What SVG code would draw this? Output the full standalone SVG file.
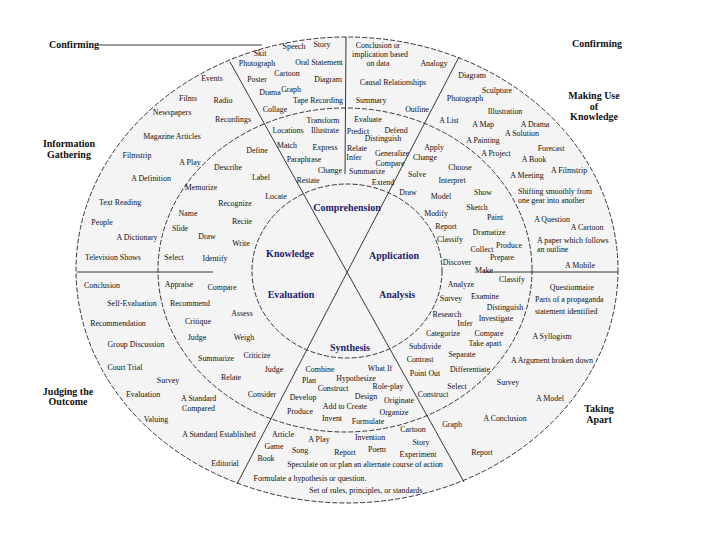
<svg xmlns="http://www.w3.org/2000/svg" width="720" height="540" viewBox="0 0 720 540">
<style>
.t{font-family:"Liberation Serif","Times New Roman",serif;font-size:7.9px;fill:#111;text-anchor:middle;dominant-baseline:central}
.s{text-anchor:start}
.lab{font-size:10px;font-weight:bold;fill:#111}
.core{font-size:10px;font-weight:bold;fill:#1c1c6c}
.el{fill:none;stroke:#222;stroke-width:0.9;stroke-dasharray:5 2}
.ln{stroke:#222;stroke-width:0.9;fill:none}
</style>
<rect width="720" height="540" fill="#fff"/>
<ellipse cx="347" cy="270" rx="271" ry="233" fill="#f4f4f4"/>
<g id="connectors">
<ellipse class="el" cx="347" cy="270" rx="271" ry="233"/>
<ellipse class="el" cx="345" cy="270" rx="187" ry="162"/>
<ellipse class="el" cx="347" cy="271" rx="95" ry="87"/>
<line class="ln" x1="230" y1="62" x2="464" y2="482"/>
<line class="ln" x1="459" y1="57" x2="237" y2="484"/>
<line class="ln" x1="346" y1="37" x2="345" y2="174"/>
<line class="ln" x1="77" y1="272" x2="213" y2="272"/>
<line class="ln" x1="483" y1="272" x2="618" y2="272"/>
<line class="ln" x1="97" y1="45" x2="262" y2="45"/>
</g>
<g id="labels" class="t">
<text class="t lab s" x="49" y="44">Confirming</text>
<text class="t lab" x="597" y="43">Confirming</text>
<text class="t lab" x="594" y="95">Making Use</text>
<text class="t lab" x="594" y="106">of</text>
<text class="t lab" x="594" y="116">Knowledge</text>
<text class="t lab" x="69" y="143">Information</text>
<text class="t lab" x="69" y="154">Gathering</text>
<text class="t lab" x="68" y="391">Judging the</text>
<text class="t lab" x="68" y="401">Outcome</text>
<text class="t lab" x="599" y="408">Taking</text>
<text class="t lab" x="599" y="419">Apart</text>
</g>
<g id="knowledge"><text class="t core" x="290" y="253">Knowledge</text></g>
<g id="comprehension"><text class="t core" x="347" y="207">Comprehension</text></g>
<g id="application"><text class="t core" x="394" y="255">Application</text></g>
<g id="analysis"><text class="t core" x="397" y="294">Analysis</text></g>
<g id="synthesis"><text class="t core" x="350" y="347">Synthesis</text></g>
<g id="evaluation"><text class="t core" x="291" y="294">Evaluation</text></g>
<g id="knowledge-outer">
<text class="t" x="172" y="112">Newspapers</text>
<text class="t" x="188" y="98">Films</text>
<text class="t" x="212" y="78">Events</text>
<text class="t" x="223" y="100">Radio</text>
<text class="t" x="172" y="136">Magazine Articles</text>
<text class="t" x="137" y="155">Filmstrip</text>
<text class="t" x="190" y="162">A Play</text>
<text class="t" x="151" y="178">A Definition</text>
<text class="t" x="120" y="202">Text Reading</text>
<text class="t" x="102" y="222">People</text>
<text class="t" x="137" y="237">A Dictionary</text>
<text class="t" x="113" y="257">Television Shows</text>
<text class="t" x="233" y="119">Recordings</text>
</g>
<g id="knowledge-middle">
<text class="t" x="257" y="150">Define</text>
<text class="t" x="228" y="167">Describe</text>
<text class="t" x="261" y="177">Label</text>
<text class="t" x="201" y="187">Memorize</text>
<text class="t" x="276" y="196">Locate</text>
<text class="t" x="235" y="203">Recognize</text>
<text class="t" x="188" y="213">Name</text>
<text class="t" x="242" y="221">Recite</text>
<text class="t" x="180" y="228">Slide</text>
<text class="t" x="207" y="236">Draw</text>
<text class="t" x="241" y="243">Write</text>
<text class="t" x="174" y="257">Select</text>
<text class="t" x="215" y="258">Identify</text>
</g>
<g id="comprehension-outer">
<text class="t" x="294" y="46">Speech</text>
<text class="t" x="322" y="44">Story</text>
<text class="t" x="260" y="53">Skit</text>
<text class="t" x="257" y="63">Photograph</text>
<text class="t" x="319" y="62">Oral Statement</text>
<text class="t" x="287" y="73">Cartoon</text>
<text class="t" x="257" y="79">Poster</text>
<text class="t" x="328" y="79">Diagram</text>
<text class="t" x="270" y="92">Drama</text>
<text class="t" x="291" y="89">Graph</text>
<text class="t" x="318" y="100">Tape Recording</text>
<text class="t" x="275" y="109">Collage</text>
<text class="t" x="378" y="45">Conclusion or</text>
<text class="t" x="380" y="54">implication based</text>
<text class="t" x="378" y="63">on data</text>
<text class="t" x="434" y="63">Analogy</text>
<text class="t" x="393" y="82">Causal Relationships</text>
<text class="t" x="371" y="100">Summary</text>
<text class="t" x="417" y="109">Outline</text>
</g>
<g id="comprehension-middle">
<text class="t" x="323" y="120">Transform</text>
<text class="t" x="288" y="130">Locations</text>
<text class="t" x="325" y="130">Illustrate</text>
<text class="t" x="287" y="145">Match</text>
<text class="t" x="325" y="147">Express</text>
<text class="t" x="304" y="159">Paraphrase</text>
<text class="t" x="330" y="170">Change</text>
<text class="t" x="308" y="180">Restate</text>
<text class="t" x="368" y="119">Evaluate</text>
<text class="t" x="358" y="131">Predict</text>
<text class="t" x="396" y="130">Defend</text>
<text class="t" x="383" y="138">Distinguish</text>
<text class="t" x="357" y="148">Relate</text>
<text class="t" x="392" y="153">Generalize</text>
<text class="t" x="354" y="157">Infer</text>
<text class="t" x="390" y="163">Compare</text>
<text class="t" x="367" y="171">Summarize</text>
<text class="t" x="383" y="182">Extend</text>
</g>
<g id="application-outer">
<text class="t" x="472" y="75">Diagram</text>
<text class="t" x="497" y="90">Sculpture</text>
<text class="t" x="465" y="98">Photograph</text>
<text class="t" x="505" y="111">Illustration</text>
<text class="t" x="449" y="120">A List</text>
<text class="t" x="483" y="124">A Map</text>
<text class="t" x="535" y="124">A Drama</text>
<text class="t" x="522" y="133">A Solution</text>
<text class="t" x="483" y="140">A Painting</text>
<text class="t" x="496" y="153">A Project</text>
<text class="t" x="551" y="148">Forecast</text>
<text class="t" x="534" y="159">A Book</text>
<text class="t" x="569" y="170">A Filmstrip</text>
<text class="t" x="527" y="175">A Meeting</text>
<text class="t s" x="518" y="191">Shifting smoothly from</text>
<text class="t s" x="518" y="200">one gear into another</text>
<text class="t" x="552" y="219">A Question</text>
<text class="t" x="587" y="227">A Cartoon</text>
<text class="t s" x="537" y="240">A paper which follows</text>
<text class="t s" x="537" y="249">an outline</text>
<text class="t" x="580" y="265">A Mobile</text>
</g>
<g id="application-middle">
<text class="t" x="434" y="147">Apply</text>
<text class="t" x="425" y="157">Change</text>
<text class="t" x="460" y="167">Choose</text>
<text class="t" x="417" y="174">Solve</text>
<text class="t" x="452" y="180">Interpret</text>
<text class="t" x="408" y="192">Draw</text>
<text class="t" x="483" y="192">Show</text>
<text class="t" x="441" y="196">Model</text>
<text class="t" x="477" y="207">Sketch</text>
<text class="t" x="436" y="213">Modify</text>
<text class="t" x="495" y="217">Paint</text>
<text class="t" x="446" y="226">Report</text>
<text class="t" x="489" y="232">Dramatize</text>
<text class="t" x="450" y="239">Classify</text>
<text class="t" x="509" y="245">Produce</text>
<text class="t" x="482" y="249">Collect</text>
<text class="t" x="502" y="257">Prepare</text>
<text class="t" x="457" y="262">Discover</text>
<text class="t" x="484" y="270">Make</text>
</g>
<g id="analysis-middle">
<text class="t" x="512" y="279">Classify</text>
<text class="t" x="461" y="284">Analyze</text>
<text class="t" x="485" y="296">Examine</text>
<text class="t" x="451" y="298">Survey</text>
<text class="t" x="505" y="307">Distinguish</text>
<text class="t" x="447" y="314">Research</text>
<text class="t" x="496" y="318">Investigate</text>
<text class="t" x="465" y="323">Infer</text>
<text class="t" x="443" y="333">Categorize</text>
<text class="t" x="489" y="333">Compare</text>
<text class="t" x="485" y="343">Take apart</text>
<text class="t" x="425" y="346">Subdivide</text>
<text class="t" x="462" y="354">Separate</text>
<text class="t" x="420" y="359">Contrast</text>
<text class="t" x="470" y="369">Differentiate</text>
<text class="t" x="425" y="373">Point Out</text>
<text class="t" x="457" y="386">Select</text>
<text class="t" x="433" y="394">Construct</text>
</g>
<g id="analysis-outer">
<text class="t" x="572" y="287">Questionnaire</text>
<text class="t s" x="535" y="299">Parts of a propaganda</text>
<text class="t s" x="535" y="311">statement identified</text>
<text class="t" x="552" y="336">A Syllogism</text>
<text class="t" x="552" y="360">A Argument broken down</text>
<text class="t" x="508" y="382">Survey</text>
<text class="t" x="550" y="398">A Model</text>
<text class="t" x="505" y="418">A Conclusion</text>
<text class="t" x="452" y="424">Graph</text>
<text class="t" x="482" y="452">Report</text>
</g>
<g id="synthesis-middle">
<text class="t" x="320" y="369">Combine</text>
<text class="t" x="380" y="368">What If</text>
<text class="t" x="356" y="378">Hypothesize</text>
<text class="t" x="309" y="380">Plan</text>
<text class="t" x="333" y="388">Construct</text>
<text class="t" x="388" y="386">Role-play</text>
<text class="t" x="366" y="396">Design</text>
<text class="t" x="303" y="397">Develop</text>
<text class="t" x="399" y="400">Originate</text>
<text class="t" x="345" y="406">Add to Create</text>
<text class="t" x="300" y="411">Produce</text>
<text class="t" x="394" y="412">Organize</text>
<text class="t" x="332" y="418">Invent</text>
<text class="t" x="368" y="421">Formulate</text>
</g>
<g id="synthesis-outer">
<text class="t" x="413" y="429">Cartoon</text>
<text class="t" x="283" y="434">Article</text>
<text class="t" x="319" y="439">A Play</text>
<text class="t" x="370" y="437">Invention</text>
<text class="t" x="421" y="442">Story</text>
<text class="t" x="274" y="446">Game</text>
<text class="t" x="300" y="450">Song</text>
<text class="t" x="345" y="452">Report</text>
<text class="t" x="377" y="449">Poem</text>
<text class="t" x="418" y="454">Experiment</text>
<text class="t" x="266" y="458">Book</text>
<text class="t" x="365" y="464">Speculate on or plan an alternate course of action</text>
<text class="t" x="310" y="478">Formulate a hypothesis or question.</text>
<text class="t" x="366" y="490">Set of rules, principles, or standards</text>
</g>
<g id="evaluation-middle">
<text class="t" x="179" y="284">Appraise</text>
<text class="t" x="222" y="287">Compare</text>
<text class="t" x="190" y="303">Recommend</text>
<text class="t" x="242" y="313">Assess</text>
<text class="t" x="198" y="321">Critique</text>
<text class="t" x="197" y="337">Judge</text>
<text class="t" x="244" y="337">Weigh</text>
<text class="t" x="257" y="355">Criticize</text>
<text class="t" x="216" y="358">Summarize</text>
<text class="t" x="274" y="369">Judge</text>
<text class="t" x="231" y="377">Relate</text>
<text class="t" x="262" y="394">Consider</text>
</g>
<g id="evaluation-outer">
<text class="t" x="102" y="285">Conclusion</text>
<text class="t" x="132" y="303">Self-Evaluation</text>
<text class="t" x="118" y="323">Recommendation</text>
<text class="t" x="136" y="344">Group Discussion</text>
<text class="t" x="125" y="367">Court Trial</text>
<text class="t" x="168" y="380">Survey</text>
<text class="t" x="143" y="394">Evaluation</text>
<text class="t" x="156" y="419">Valuing</text>
<text class="t s" x="181" y="398">A Standard</text>
<text class="t s" x="182" y="408">Compared</text>
<text class="t" x="219" y="434">A Standard Established</text>
<text class="t" x="225" y="463">Editorial</text>
</g>
</svg>
